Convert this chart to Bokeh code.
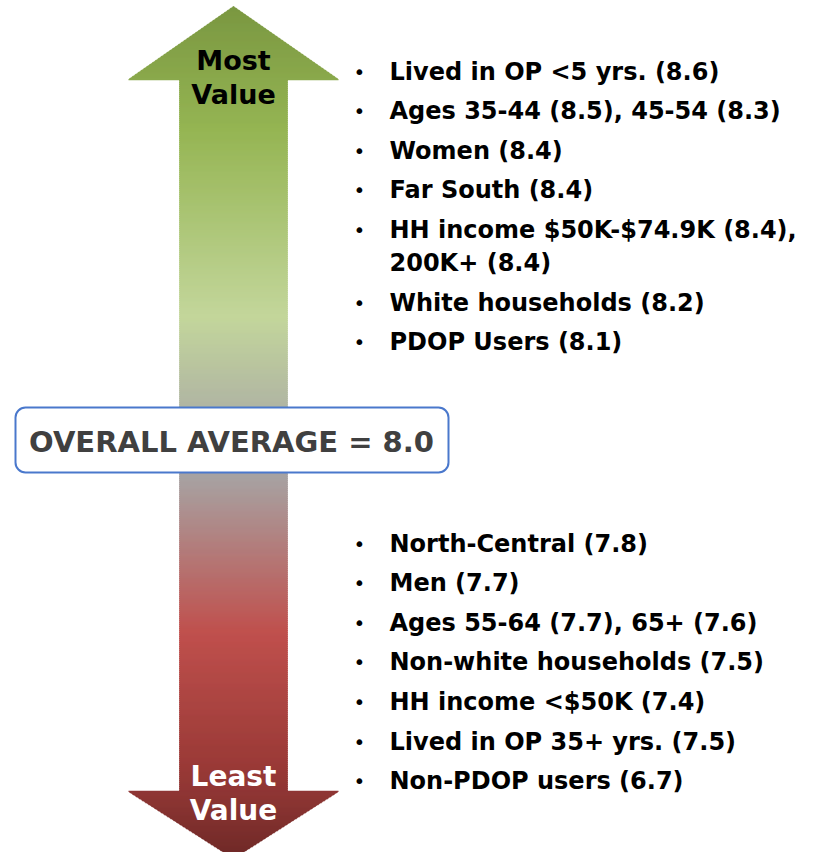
import numpy as np
from bokeh.plotting import figure
from bokeh.models import Range1d, BoxAnnotation, ColumnDataSource
from bokeh.embed import file_html
from bokeh.resources import INLINE
from bokeh.core.properties import value

# ---- content ----
top_items = [
    "Lived in OP <5 yrs. (8.6)",
    "Ages 35-44 (8.5), 45-54 (8.3)",
    "Women (8.4)",
    "Far South (8.4)",
    "HH income $50K-$74.9K (8.4),\n200K+ (8.4)",
    "White households (8.2)",
    "PDOP Users (8.1)",
]
bottom_items = [
    "North-Central (7.8)",
    "Men (7.7)",
    "Ages 55-64 (7.7), 65+ (7.6)",
    "Non-white households (7.5)",
    "HH income <$50K (7.4)",
    "Lived in OP 35+ yrs. (7.5)",
    "Non-PDOP users (6.7)",
]
overall_label = "OVERALL AVERAGE = 8.0"
top_label = ["Most", "Value"]
bottom_label = ["Least", "Value"]
grad_y = [6, 130, 317, 400, 470, 633, 700, 760, 800, 858]
grad_col = ["#7A9741", "#95B553", "#C3D69B", "#B2B8A2", "#A6A6A6",
            "#C0504D", "#AC4542", "#9C3B38", "#8C3533", "#6E2927"]

FONT = value("DejaVu Sans")

p = figure(width=807, height=852, output_backend="svg", toolbar_location=None,
           x_range=Range1d(0, 807), y_range=Range1d(852, 0),
           min_border=0, outline_line_color=None, background_fill_color="white")
p.axis.visible = False
p.grid.visible = False

# ---- gradient double arrow ----
cx = 233.0
tip_top, base_top = 6.0, 79.0
base_bot, tip_bot = 791.0, 858.0
head_hw, shaft_hw = 105.0, 54.0

def hex2rgb(h):
    h = h.lstrip("#")
    return np.array([int(h[i:i + 2], 16) for i in (0, 2, 4)], dtype=float)

stops_rgb = np.array([hex2rgb(c) for c in grad_col])

def color_at(y):
    r = [np.interp(y, grad_y, stops_rgb[:, k]) for k in range(3)]
    return "#%02x%02x%02x" % tuple(int(round(v)) for v in r)

def hw(y, region):
    if region == 0:
        return head_hw * (y - tip_top) / (base_top - tip_top)
    if region == 1:
        return shaft_hw
    return head_hw * (tip_bot - y) / (tip_bot - base_bot)

edges = np.unique(np.concatenate([np.arange(tip_top, tip_bot, 2.0), [base_top, base_bot, tip_bot]]))
xs, ys, cols = [], [], []
for y0, y1 in zip(edges[:-1], edges[1:]):
    m = 0.5 * (y0 + y1)
    reg = 0 if m < base_top else (1 if m < base_bot else 2)
    h0, h1 = hw(y0, reg), hw(y1, reg)
    xs.append([cx - h0, cx + h0, cx + h1, cx - h1])
    ys.append([y0 - 0.5, y0 - 0.5, y1 + 0.5, y1 + 0.5])
    cols.append(color_at(m))
p.patches(xs, ys, fill_color=cols, line_color=cols, line_width=0.5)

# ---- arrow labels ----
p.text(x=[cx, cx], y=[60, 94], text=top_label, text_font=FONT, text_font_style="bold",
       text_font_size="27px", text_color="black", text_align="center", text_baseline="middle")
p.text(x=[cx, cx], y=[776, 810], text=bottom_label, text_font=FONT, text_font_style="bold",
       text_font_size="28px", text_color="white", text_align="center", text_baseline="middle")

# ---- bullet lists ----
def layout(items, y_start, step=39.6, wrap=33.0):
    line_y, line_t, bul_y = [], [], []
    y = y_start
    for it in items:
        parts = it.split("\n")
        bul_y.append(y)
        for j, part in enumerate(parts):
            line_y.append(y)
            line_t.append(part)
            if j < len(parts) - 1:
                y += wrap
        y += step
    return line_y, line_t, bul_y

for items, y_start in ((top_items, 71), (bottom_items, 543)):
    ly, lt, by = layout(items, y_start)
    src = ColumnDataSource(dict(x=[389] * len(ly), y=ly, t=lt))
    p.text(x="x", y="y", text="t", source=src, text_font=FONT, text_font_style="bold",
           text_font_size="24px", text_color="black", text_align="left", text_baseline="middle")
    p.text(x=[359] * len(by), y=by, text=["•"] * len(by), text_font=FONT,
           text_font_size="20px", text_color="black", text_align="center", text_baseline="middle")

# ---- overall average box ----
box = BoxAnnotation(left=15, right=448, top=407, bottom=472, fill_color="white", fill_alpha=1.0,
                    line_color="#4A78CC", line_alpha=1.0, line_width=2, border_radius=10)
p.add_layout(box)
r = p.text(x=[231], y=[441], text=[overall_label], text_font=FONT, text_font_style="bold",
           text_font_size="29px", text_color="#404040", text_align="center", text_baseline="middle")
r.level = "overlay"

open("out.html", "w").write(file_html(p, INLINE))
